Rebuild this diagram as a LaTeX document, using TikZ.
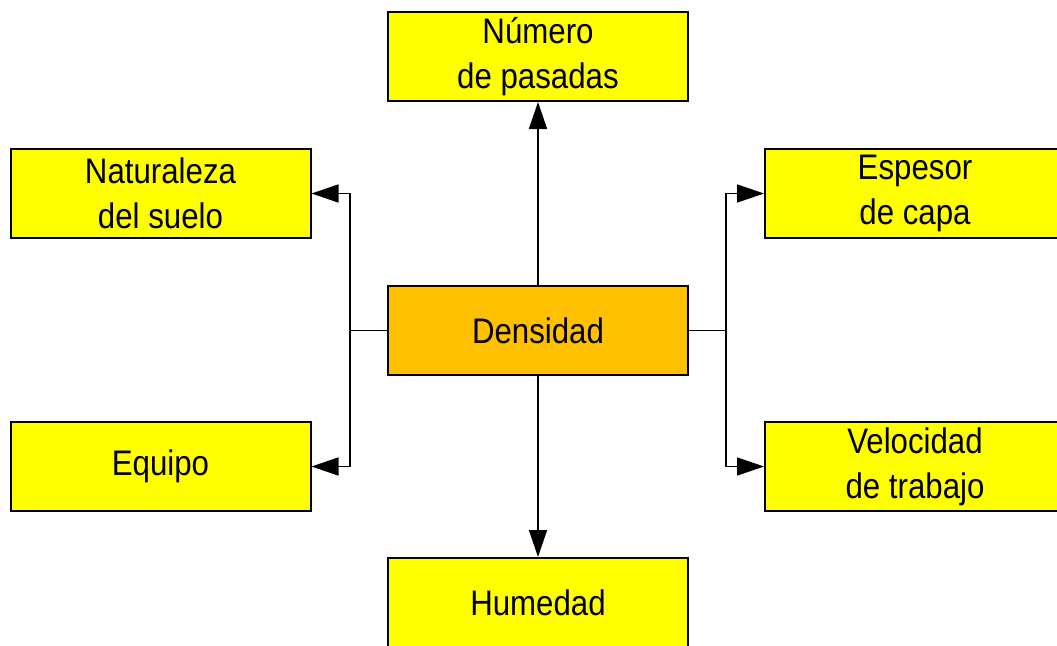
\documentclass[tikz,border=0pt]{standalone}
\usepackage{fontspec}
\setmainfont{Liberation Sans}[FakeStretch=0.88]
\usetikzlibrary{arrows.meta}
\definecolor{boxyellow}{HTML}{FFFF00}
\definecolor{boxorange}{HTML}{FFC000}
\tikzset{
  factor/.style={draw=black, line width=2pt, fill=boxyellow, minimum width=300pt, minimum height=89pt,
    inner sep=0pt, align=center, font=\fontsize{35.5}{45}\selectfont},
  central/.style={factor, fill=boxorange},
  link/.style={line width=1.6pt, draw=black},
  tip/.style={-{Triangle[length=27pt,width=18pt]}}
}
\begin{document}
\begin{tikzpicture}[x=1pt,y=-1pt]
\path[use as bounding box, clip] (0,0) rectangle (1057,645);
\node[factor] (num) at (538,56.5) {Número\\de pasadas};
\node[factor] (nat) at (160.5,193.5) {Naturaleza\\del suelo};
\node[factor] (esp) at (915,193.5) {Espesor\\de capa};
\node[central] (den) at (538,330.5) {Densidad};
\node[factor] (equ) at (160.5,466.5) {Equipo};
\node[factor] (vel) at (915,466.5) {Velocidad\\de trabajo};
\node[factor] (hum) at (538,602.5) {Humedad};
\coordinate (lj) at (350,330.5);
\coordinate (rj) at (726,330.5);
\draw[link, tip] (den.north) -- (num.south);
\draw[link, tip] (den.south) -- (hum.north);
\draw[link] (den.west) -- (lj);
\draw[link, tip] (lj) |- (nat.east);
\draw[link, tip] (lj) |- (equ.east);
\draw[link] (den.east) -- (rj);
\draw[link, tip] (rj) |- (esp.west);
\draw[link, tip] (rj) |- (vel.west);
\end{tikzpicture}
\end{document}
